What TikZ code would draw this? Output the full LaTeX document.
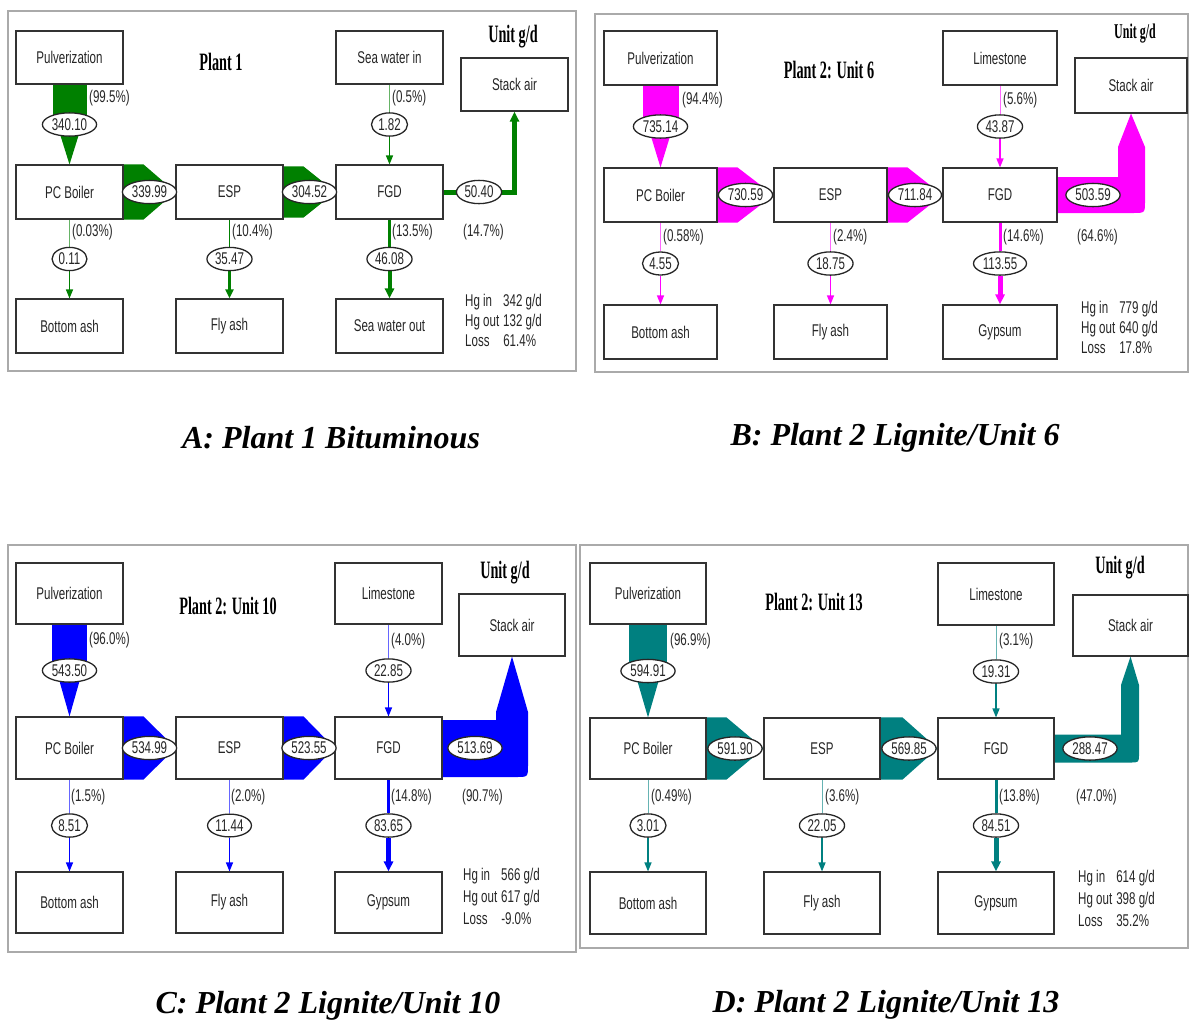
\documentclass[tikz,border=0pt]{standalone}
\usepackage{fontspec}
\setmainfont{Liberation Sans}
\newfontfamily\dgnsans{Liberation Sans}[FakeStretch=0.68]
\newfontfamily\dgnserif{Liberation Serif}[FakeStretch=0.57]
\newfontfamily\dgcserif{Liberation Serif}
\usetikzlibrary{shapes.geometric,arrows.meta,calc}
\pgfdeclarelayer{bg}
\pgfsetlayers{bg,main}
\definecolor{cA}{RGB}{0,128,0}
\definecolor{cB}{RGB}{255,0,255}
\definecolor{cC}{RGB}{0,0,255}
\definecolor{cD}{RGB}{0,128,128}
\definecolor{framegray}{RGB}{170,170,170}
\newcommand\dgboxfont{\dgnsans\fontsize{17}{20}\selectfont}
\newcommand\dghgfont{\dgnsans\fontsize{17}{22}\selectfont}
\newcommand\dgttlfont{\dgnserif\bfseries\fontsize{25}{28}\selectfont}
\newcommand\dgsmttlfont{\dgnserif\bfseries\fontsize{21}{24}\selectfont}
\newcommand\dgcapfont{\dgcserif\bfseries\itshape\fontsize{32}{36}\selectfont}
\newcommand\mybox[6]{\node[box, minimum width={#4-#2}, minimum height={#5-#3}] (#1) at ({(#2+#4)/2},{(#3+#5)/2}) {#6};}
\tikzset{
  box/.style={draw=black!80, line width=1.1pt, fill=white, font=\dgboxfont, text=black!85, inner sep=0pt},
  val/.style={ellipse, draw=black!85, line width=1.3pt, fill=white, font=\dgboxfont, text=black!85, inner xsep=1.5pt, inner ysep=2.2pt},
  pct/.style={font=\dgboxfont, text=black!85, inner sep=0pt, anchor=west},
  hg/.style={font=\dgboxfont, text=black!85, inner sep=0pt, anchor=west},
  ttl/.style={font=\dgttlfont, text=black, inner sep=0pt},
  captext/.style={font=\dgcapfont, text=black, inner sep=0pt},
  frame/.style={draw=framegray, line width=1.5pt},
  tin/.style={draw=#1!60, line width=0.9pt},
  tout/.style={draw=#1, line width=1.3pt, -{Triangle[length=9pt,width=7pt]}},
  thick out/.style={draw=#1, line width=5pt, -{Triangle[length=10pt,width=9pt]}},
}
\begin{document}
\begin{tikzpicture}[x=1pt,y=-1pt]
\useasboundingbox (0,0) rectangle (1189,1021);

% ================= Panel A =================
\mybox{a-pul}{16}{31}{123}{84}{Pulverization}
\mybox{a-pc}{16}{165}{123}{219}{PC Boiler}
\mybox{a-esp}{176}{165}{283}{219}{ESP}
\mybox{a-ba}{16}{299}{123}{353}{Bottom ash}
\mybox{a-fa}{176}{299}{283}{353}{Fly ash}
\mybox{a-sea}{336}{31}{443}{84}{Sea water in}
\mybox{a-stack}{461}{58}{568}{111}{Stack air}
\mybox{a-fgd}{336}{165}{443}{219}{FGD}
\mybox{a-swo}{336}{299}{443}{353}{Sea water out}
\node[ttl] (a-title) at (221,62) {Plant 1};
\node[ttl] (a-unit) at (513,37) {Unit g/d};
\node[val] (a-v1) at ($(a-pul.south)!0.5!(a-pc.north)$) {340.10};
\node[val] (a-v2) at ($(a-pc.east)!0.5!(a-esp.west)$) {339.99};
\node[val] (a-v3) at ($(a-esp.east)!0.5!(a-fgd.west)$) {304.52};
\node[val] (a-v4) at ($(a-sea.south)!0.5!(a-fgd.north)$) {1.82};
\node[val] (a-v5) at ($(a-fgd.east)!0.5!(a-stack.south |- a-fgd.east)$) {50.40};
\node[val] (a-v6) at ($(a-pc.south)!0.5!(a-ba.north)$) {0.11};
\node[val] (a-v7) at ($(a-esp.south)!0.5!(a-fa.north)$) {35.47};
\node[val] (a-v8) at ($(a-fgd.south)!0.5!(a-swo.north)$) {46.08};
\node[pct] (a-p1) at (89,98) {(99.5\%)};
\node[pct] (a-p2) at (392,98) {(0.5\%)};
\node[pct] (a-p3) at (72,232) {(0.03\%)};
\node[pct] (a-p4) at (232,232) {(10.4\%)};
\node[pct] (a-p5) at (392,232) {(13.5\%)};
\node[pct] (a-p6) at (463,232) {(14.7\%)};
\node[hg] (a-hg) at (465,322) {\begin{tabular}{@{}l@{\hspace{4pt}}l@{}}Hg in & 342 g/d\\ Hg out & 132 g/d\\ Loss & 61.4\%\end{tabular}};
\node[captext] (a-cap) at (331,438) {A: Plant 1 Bituminous};

% ================= Panel B =================
\mybox{b-pul}{604}{31}{717}{85}{Pulverization}
\mybox{b-pc}{604}{168}{717}{222}{PC Boiler}
\mybox{b-esp}{774}{168}{887}{222}{ESP}
\mybox{b-ba}{604}{305}{717}{359}{Bottom ash}
\mybox{b-fa}{774}{305}{887}{359}{Fly ash}
\mybox{b-lime}{943}{31}{1057}{85}{Limestone}
\mybox{b-stack}{1075}{58}{1187}{113}{Stack air}
\mybox{b-fgd}{943}{168}{1057}{222}{FGD}
\mybox{b-gyp}{943}{305}{1057}{359}{Gypsum}
\node[ttl] (b-title) at (829,70) {Plant 2: Unit 6};
\node[ttl, font=\dgsmttlfont] (b-unit) at (1135,34) {Unit g/d};
\node[val] (b-v1) at ($(b-pul.south)!0.5!(b-pc.north)$) {735.14};
\node[val] (b-v2) at ($(b-pc.east)!0.5!(b-esp.west)$) {730.59};
\node[val] (b-v3) at ($(b-esp.east)!0.5!(b-fgd.west)$) {711.84};
\node[val] (b-v4) at ($(b-lime.south)!0.5!(b-fgd.north)$) {43.87};
\node[val] (b-v5) at (1093,195) {503.59};
\node[val] (b-v6) at ($(b-pc.south)!0.5!(b-ba.north)$) {4.55};
\node[val] (b-v7) at ($(b-esp.south)!0.5!(b-fa.north)$) {18.75};
\node[val] (b-v8) at ($(b-fgd.south)!0.5!(b-gyp.north)$) {113.55};
\node[pct] (b-p1) at (682,100) {(94.4\%)};
\node[pct] (b-p2) at (1003,100) {(5.6\%)};
\node[pct] (b-p3) at (663,237) {(0.58\%)};
\node[pct] (b-p4) at (833,237) {(2.4\%)};
\node[pct] (b-p5) at (1003,237) {(14.6\%)};
\node[pct] (b-p6) at (1077,237) {(64.6\%)};
\node[hg] (b-hg) at (1081,329) {\begin{tabular}{@{}l@{\hspace{4pt}}l@{}}Hg in & 779 g/d\\ Hg out & 640 g/d\\ Loss & 17.8\%\end{tabular}};
\node[captext] (b-cap) at (895,438) {B: Plant 2 Lignite/Unit 6};

% ================= Panel C =================
\mybox{c-pul}{16}{563}{123}{624}{Pulverization}
\mybox{c-pc}{16}{717}{123}{779}{PC Boiler}
\mybox{c-esp}{176}{717}{283}{779}{ESP}
\mybox{c-ba}{16}{872}{123}{933}{Bottom ash}
\mybox{c-fa}{176}{872}{283}{933}{Fly ash}
\mybox{c-lime}{335}{563}{442}{624}{Limestone}
\mybox{c-stack}{459}{594}{565}{656}{Stack air}
\mybox{c-fgd}{335}{717}{442}{779}{FGD}
\mybox{c-gyp}{335}{872}{442}{933}{Gypsum}
\node[ttl] (c-title) at (228,606) {Plant 2: Unit 10};
\node[ttl] (c-unit) at (505,573) {Unit g/d};
\node[val] (c-v1) at ($(c-pul.south)!0.5!(c-pc.north)$) {543.50};
\node[val] (c-v2) at ($(c-pc.east)!0.5!(c-esp.west)$) {534.99};
\node[val] (c-v3) at ($(c-esp.east)!0.5!(c-fgd.west)$) {523.55};
\node[val] (c-v4) at ($(c-lime.south)!0.5!(c-fgd.north)$) {22.85};
\node[val] (c-v5) at (475,748) {513.69};
\node[val] (c-v6) at ($(c-pc.south)!0.5!(c-ba.north)$) {8.51};
\node[val] (c-v7) at ($(c-esp.south)!0.5!(c-fa.north)$) {11.44};
\node[val] (c-v8) at ($(c-fgd.south)!0.5!(c-gyp.north)$) {83.65};
\node[pct] (c-p1) at (89,640) {(96.0\%)};
\node[pct] (c-p2) at (391,641) {(4.0\%)};
\node[pct] (c-p3) at (71,797) {(1.5\%)};
\node[pct] (c-p4) at (231,797) {(2.0\%)};
\node[pct] (c-p5) at (391,797) {(14.8\%)};
\node[pct] (c-p6) at (462,797) {(90.7\%)};
\node[hg, font=\dghgfont] (c-hg) at (463,898) {\begin{tabular}{@{}l@{\hspace{4pt}}l@{}}Hg in & 566 g/d\\ Hg out & 617 g/d\\ Loss & -9.0\%\end{tabular}};
\node[captext] (c-cap) at (328,1006) {C: Plant 2 Lignite/Unit 10};

% ================= Panel D =================
\mybox{d-pul}{590}{563}{706}{624}{Pulverization}
\mybox{d-pc}{590}{718}{706}{779}{PC Boiler}
\mybox{d-esp}{764}{718}{880}{779}{ESP}
\mybox{d-ba}{590}{872}{706}{934}{Bottom ash}
\mybox{d-fa}{764}{872}{880}{934}{Fly ash}
\mybox{d-lime}{938}{563}{1054}{625}{Limestone}
\mybox{d-stack}{1073}{595}{1188}{656}{Stack air}
\mybox{d-fgd}{938}{718}{1054}{779}{FGD}
\mybox{d-gyp}{938}{872}{1054}{934}{Gypsum}
\node[ttl] (d-title) at (814,602) {Plant 2: Unit 13};
\node[ttl] (d-unit) at (1120,568) {Unit g/d};
\node[val] (d-v1) at ($(d-pul.south)!0.5!(d-pc.north)$) {594.91};
\node[val] (d-v2) at ($(d-pc.east)!0.5!(d-esp.west)$) {591.90};
\node[val] (d-v3) at ($(d-esp.east)!0.5!(d-fgd.west)$) {569.85};
\node[val] (d-v4) at ($(d-lime.south)!0.5!(d-fgd.north)$) {19.31};
\node[val] (d-v5) at (1090,748.5) {288.47};
\node[val] (d-v6) at ($(d-pc.south)!0.5!(d-ba.north)$) {3.01};
\node[val] (d-v7) at ($(d-esp.south)!0.5!(d-fa.north)$) {22.05};
\node[val] (d-v8) at ($(d-fgd.south)!0.5!(d-gyp.north)$) {84.51};
\node[pct] (d-p1) at (670,641) {(96.9\%)};
\node[pct] (d-p2) at (999,641) {(3.1\%)};
\node[pct] (d-p3) at (651,797) {(0.49\%)};
\node[pct] (d-p4) at (825,797) {(3.6\%)};
\node[pct] (d-p5) at (999,797) {(13.8\%)};
\node[pct] (d-p6) at (1076,797) {(47.0\%)};
\node[hg, font=\dghgfont] (d-hg) at (1078,900) {\begin{tabular}{@{}l@{\hspace{4pt}}l@{}}Hg in & 614 g/d\\ Hg out & 398 g/d\\ Loss & 35.2\%\end{tabular}};
\node[captext] (d-cap) at (886,1005) {D: Plant 2 Lignite/Unit 13};

\begin{pgfonlayer}{bg}
% frames
\draw[frame] (8,11) rectangle (576,371);
\draw[frame] (595,14) rectangle (1188,372);
\draw[frame] (8,545) rectangle (576,952);
\draw[frame] (580,545) rectangle (1188,948);

% ---- flows A ----
\fill[cA] ($(a-pul.south)+(-17,0)$) rectangle ($(a-v1.center)+(17,0)$);
\fill[cA] ($(a-v1.center)+(-12.5,0)$) -- ($(a-v1.center)+(12.5,0)$) -- (a-pc.north) -- cycle;
\fill[cA] (a-pc.north east) -- ++(20,0) -- (a-esp.west) -- ($(a-pc.south east)+(20,0)$) -- (a-pc.south east) -- cycle;
\fill[cA] ($(a-esp.north east)+(0,2)$) -- ++(20,0) -- (a-fgd.west) -- ($(a-esp.south east)+(20,-2)$) -- ($(a-esp.south east)+(0,-2)$) -- cycle;
\draw[tin=cA] (a-sea) -- (a-v4);
\draw[tout=cA] (a-v4) -- (a-fgd);
\draw[thick out=cA] (a-fgd.east) -- (a-v5.center) -| (a-stack.south);
\draw[tin=cA] (a-pc) -- (a-v6);
\draw[tout=cA] (a-v6) -- (a-ba);
\draw[cA, line width=1.8pt] (a-esp) -- (a-v7);
\draw[cA, line width=2.6pt, -{Triangle[length=9pt,width=8pt]}] (a-v7) -- (a-fa);
\draw[cA, line width=3pt] (a-fgd) -- (a-v8);
\draw[cA, line width=4pt, -{Triangle[length=10pt,width=9pt]}] (a-v8) -- (a-swo);

% ---- flows B ----
\fill[cB] ($(b-pul.south)+(-18,0)$) rectangle ($(b-v1.center)+(18,0)$);
\fill[cB] ($(b-v1.center)+(-12.5,0)$) -- ($(b-v1.center)+(12.5,0)$) -- (b-pc.north) -- cycle;
\fill[cB] (b-pc.north east) -- ++(20,0) -- (b-esp.west) -- ($(b-pc.south east)+(20,0)$) -- (b-pc.south east) -- cycle;
\fill[cB] (b-esp.north east) -- ++(20,0) -- (b-fgd.west) -- ($(b-esp.south east)+(20,0)$) -- (b-esp.south east) -- cycle;
\fill[cB] ($(b-fgd.east)+(0,-18)$) -- (1118,177) -- (1118,147) -- (b-stack.south) -- (1145,147) -- (1145,201) .. controls (1145,213) .. (1133,213) -- ($(b-fgd.east)+(0,18)$) -- cycle;
\draw[tin=cB] (b-lime) -- (b-v4);
\draw[tout=cB] (b-v4) -- (b-fgd);
\draw[tin=cB] (b-pc) -- (b-v6);
\draw[tout=cB] (b-v6) -- (b-ba);
\draw[tin=cB] (b-esp) -- (b-v7);
\draw[tout=cB] (b-v7) -- (b-fa);
\draw[cB, line width=3pt] (b-fgd) -- (b-v8);
\draw[thick out=cB] (b-v8) -- (b-gyp);

% ---- flows C ----
\fill[cC] ($(c-pul.south)+(-17.5,0)$) rectangle ($(c-v1.center)+(17.5,0)$);
\fill[cC] ($(c-v1.center)+(-13,0)$) -- ($(c-v1.center)+(13,0)$) -- (c-pc.north) -- cycle;
\fill[cC] (c-pc.north east) -- ++(20,0) -- (c-esp.west) -- ($(c-pc.south east)+(20,0)$) -- (c-pc.south east) -- cycle;
\fill[cC] (c-esp.north east) -- ++(20,0) -- (c-fgd.west) -- ($(c-esp.south east)+(20,0)$) -- (c-esp.south east) -- cycle;
\fill[cC] ($(c-fgd.east)+(0,-28)$) -- (496,720) -- (496,712) -- (c-stack.south) -- (528,712) -- (528,765) .. controls (528,777) .. (516,777) -- ($(c-fgd.east)+(0,29)$) -- cycle;
\draw[tin=cC] (c-lime) -- (c-v4);
\draw[tout=cC] (c-v4) -- (c-fgd);
\draw[tin=cC] (c-pc) -- (c-v6);
\draw[tout=cC] (c-v6) -- (c-ba);
\draw[tin=cC] (c-esp) -- (c-v7);
\draw[tout=cC] (c-v7) -- (c-fa);
\draw[cC, line width=3pt] (c-fgd) -- (c-v8);
\draw[thick out=cC] (c-v8) -- (c-gyp);

% ---- flows D ----
\fill[cD] ($(d-pul.south)+(-19,0)$) rectangle ($(d-v1.center)+(19,0)$);
\fill[cD] ($(d-v1.center)+(-13.5,0)$) -- ($(d-v1.center)+(13.5,0)$) -- (d-pc.north) -- cycle;
\fill[cD] (d-pc.north east) -- ++(20,0) -- (d-esp.west) -- ($(d-pc.south east)+(20,0)$) -- (d-pc.south east) -- cycle;
\fill[cD] (d-esp.north east) -- ++(22,0) -- (d-fgd.west) -- ($(d-esp.south east)+(22,0)$) -- (d-esp.south east) -- cycle;
\fill[cD] ($(d-fgd.east)+(0,-14)$) -- (1121,734.5) -- (1121,685) -- (d-stack.south) -- (1139,685) -- (1139,754) .. controls (1139,762.5) .. (1130,762.5) -- ($(d-fgd.east)+(0,14)$) -- cycle;
\draw[tin=cD] (d-lime) -- (d-v4);
\draw[tout=cD] (d-v4) -- (d-fgd);
\draw[tin=cD] (d-pc) -- (d-v6);
\draw[tout=cD] (d-v6) -- (d-ba);
\draw[tin=cD] (d-esp) -- (d-v7);
\draw[tout=cD] (d-v7) -- (d-fa);
\draw[cD, line width=3pt] (d-fgd) -- (d-v8);
\draw[thick out=cD] (d-v8) -- (d-gyp);
\end{pgfonlayer}
\end{tikzpicture}
\end{document}
